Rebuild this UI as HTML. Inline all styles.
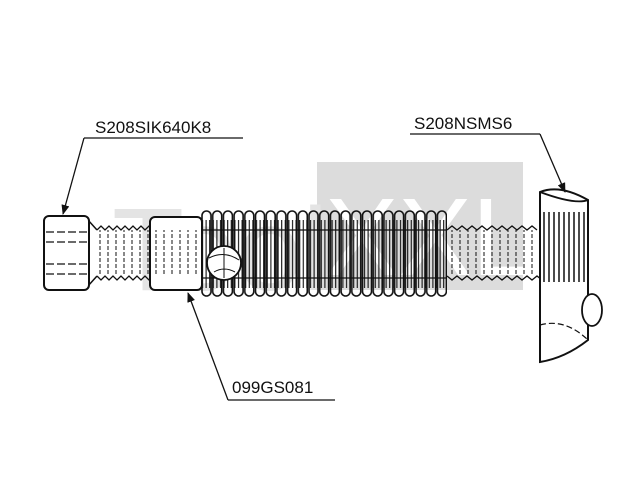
<!DOCTYPE html>
<html><head><meta charset="utf-8"><style>
html,body{margin:0;padding:0;background:#fff}
svg{display:block}
text{font-family:"Liberation Sans",sans-serif}
</style></head><body>
<svg width="640" height="480" viewBox="0 0 640 480" xmlns="http://www.w3.org/2000/svg">
<defs>
<pattern id="pill" x="201" y="0" width="10.7" height="480" patternUnits="userSpaceOnUse">
<rect x="1" y="211" width="9" height="85" rx="4.5" fill="none" stroke="#111" stroke-width="1.6"/>
</pattern>
<pattern id="dense" x="201" y="0" width="3.6" height="480" patternUnits="userSpaceOnUse">
<path d="M1.5 0V480" stroke="#111" stroke-width="1.1"/>
</pattern>
<pattern id="ridge" x="542" y="0" width="5" height="480" patternUnits="userSpaceOnUse">
<path d="M2 0V480" stroke="#111" stroke-width="1.5"/>
</pattern>
<pattern id="fine" x="97" y="0" width="8" height="480" patternUnits="userSpaceOnUse">
<path d="M3 0V480" stroke="#111" stroke-width="1" stroke-dasharray="4 2"/>
</pattern>
<marker id="ar" markerWidth="10" markerHeight="8" refX="9" refY="4" orient="auto" markerUnits="userSpaceOnUse">
<path d="M0 0L10 4L0 8Z" fill="#111"/>
</marker>
</defs>
<rect x="317" y="162" width="206" height="128" fill="#dcdcdc"/>
<text x="112" y="290" font-size="118" fill="#e4e4e4">Tool</text>
<text x="325" y="275" font-size="110" fill="#fff">XXL</text>

<rect x="97" y="230" width="56" height="46" fill="url(#fine)"/>
<path d="M97 230 l4 -4 l4 4 l4 -4 l4 4 l4 -4 l4 4 l4 -4 l4 4 l4 -4 l4 4 l4 -4 l4 4 l4 -4 l4 4 M97 276 l4 4 l4 -4 l4 4 l4 -4 l4 4 l4 -4 l4 4 l4 -4 l4 4 l4 -4 l4 4 l4 -4 l4 4 l4 -4 l4 4" fill="none" stroke="#111" stroke-width="1.3"/>
<path d="M88 220 L97 230 M88 286 L97 276" stroke="#111" stroke-width="1.5"/>
<rect x="447" y="230" width="95" height="46" fill="url(#fine)"/>
<path d="M447 230 l5 -4 l5 4 l5 -4 l5 4 l5 -4 l5 4 l5 -4 l5 4 l5 -4 l5 4 l5 -4 l5 4 l5 -4 l5 4 l5 -4 l5 4 l5 -4 l5 4 M447 276 l5 4 l5 -4 l5 4 l5 -4 l5 4 l5 -4 l5 4 l5 -4 l5 4 l5 -4 l5 4 l5 -4 l5 4 l5 -4 l5 4 l5 -4 l5 4 l5 -4 l5 4" fill="none" stroke="#111" stroke-width="1.3"/>

<rect x="44" y="216" width="45" height="74" rx="5" fill="#fff" stroke="#111" stroke-width="2"/>
<path d="M46 232H87M46 242H87M46 264H87M46 274H87" stroke="#111" stroke-width="1.2" stroke-dasharray="8 3"/>

<rect x="150" y="217" width="52" height="73" rx="5" fill="#fff" stroke="#111" stroke-width="2"/>
<rect x="153" y="230" width="47" height="46" fill="url(#fine)"/>

<rect x="201" y="220" width="246" height="68" fill="url(#dense)"/>
<rect x="201" y="210" width="246" height="87" fill="url(#pill)"/>
<path d="M201 230H447M201 278H447" stroke="#111" stroke-width="1.2"/>
<circle cx="224" cy="263" r="17" fill="#fff" stroke="#111" stroke-width="1.8"/>
<path d="M209 258Q224 250 239 260M214 272Q224 266 235 272M224 248V278" fill="none" stroke="#111"/>

<path d="M540 192 Q560 184 588 200 L588 225 L588 340 Q565 358 540 362 Z" fill="#fff" stroke="#111" stroke-width="2"/>
<path d="M540 192 Q575 205 588 200" fill="none" stroke="#111" stroke-width="1.8"/>
<path d="M540 325 Q565 318 588 340" fill="none" stroke="#111" stroke-width="1.2" stroke-dasharray="6 3"/>
<rect x="542" y="212" width="44" height="70" fill="url(#ridge)"/>
<ellipse cx="592" cy="310" rx="10" ry="16" fill="#fff" stroke="#111" stroke-width="1.8"/>

<text x="95" y="133" font-size="17" fill="#111">S208SIK640K8</text>
<path d="M84 138H243" stroke="#111" stroke-width="1.3"/>
<path d="M84 138L63 214" stroke="#111" stroke-width="1.3" marker-end="url(#ar)"/>
<text x="414" y="129" font-size="17" fill="#111">S208NSMS6</text>
<path d="M410 134H540" stroke="#111" stroke-width="1.3"/>
<path d="M540 134L565 192" stroke="#111" stroke-width="1.3" marker-end="url(#ar)"/>
<text x="232" y="393" font-size="17" fill="#111">099GS081</text>
<path d="M228 400H335" stroke="#111" stroke-width="1.3"/>
<path d="M228 400L188 293" stroke="#111" stroke-width="1.3" marker-end="url(#ar)"/>
</svg>
</body></html>
